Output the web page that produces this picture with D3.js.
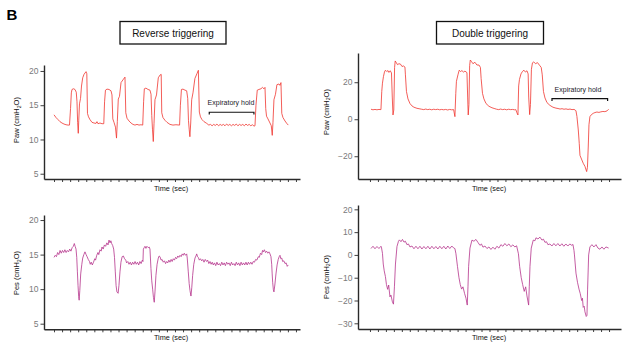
<!DOCTYPE html>
<html><head><meta charset="utf-8">
<script src="https://cdn.jsdelivr.net/npm/d3@7"></script>
<style>
html,body{margin:0;padding:0;background:#fff;}
text{font-family:"Liberation Sans",Arial,Helvetica,sans-serif;}
</style></head>
<body><svg id="c" width="636" height="347"></svg>
<script>
// ---------- DATA (time in sec, pressure in cmH2O) ----------
const timeTicks = [0,1,2,3,4,5,6,7,8,9,10,11,12,13,14,15,16,17,18,19,20,21,22,23,24,25,26,27,28,29,30];
const yTicksPawReverse = [5,10,15,20];
const yTicksPawDouble = [-20,0,20];
const yTicksPesReverse = [5,10,15,20];
const yTicksPesDouble = [-30,-20,-10,0,10,20];
const panelTitles = ["Reverse triggering","Double triggering"];
const holdLabel = "Expiratory hold";
const holdReverse = {t0:19.25, t1:24.79, v:13.97, labelT:21.94, labelV:15.0};
const holdDouble = {t0:22.84, t1:29.82, v:11.1, labelT:26.1, labelV:14.6};

const pawReverse = [
[0.00,13.6],[0.25,13.2],[0.50,12.9],[0.74,12.6],[0.99,12.4],[1.24,12.25],[1.49,12.15],[1.74,12.1],[1.92,12.1],
[2.05,14.5],[2.15,16.8],[2.23,17.3],[2.42,17.4],[2.60,17.3],[2.76,16.9],[2.85,15.5],[2.93,12.5],[3.01,10.9],
[3.07,12.8],[3.16,15.2],[3.29,16.0],[3.41,17.8],[3.56,19.0],[3.72,19.5],[3.97,19.9],[4.07,19.6],[4.15,13.8],
[4.28,13.3],[4.46,12.9],[4.71,12.5],[4.96,12.4],[5.21,12.35],[5.33,12.6],[5.45,12.3],[5.70,12.4],[5.95,12.3],[6.17,12.3],
[6.27,15.5],[6.38,17.2],[6.57,17.35],[6.82,17.3],[7.07,17.1],[7.19,16.5],[7.29,13.0],[7.44,12.5],[7.62,11.8],[7.75,10.2],
[7.85,12.6],[7.97,15.9],[8.12,16.3],[8.31,18.3],[8.55,18.7],[8.80,19.1],[8.90,13.9],[9.05,13.1],[9.30,12.7],[9.55,12.4],
[9.79,12.2],[10.04,12.1],[10.29,12.2],[10.54,12.1],[10.78,12.15],[11.00,12.1],
[11.11,15.5],[11.20,17.4],[11.40,17.5],[11.65,17.3],[11.90,17.2],[12.03,16.6],[12.12,13.5],[12.21,11.5],[12.31,9.7],
[12.40,12.3],[12.52,15.8],[12.71,16.5],[12.93,19.0],[13.14,19.4],[13.29,19.5],[13.36,13.9],[13.51,13.2],[13.76,12.8],
[14.01,12.5],[14.38,12.2],[14.75,12.1],[15.12,12.15],[15.57,12.1],
[15.67,15.0],[15.80,17.3],[15.99,17.35],[16.24,17.2],[16.45,17.1],[16.58,16.0],[16.67,12.8],[16.76,11.5],[16.85,10.4],
[16.95,12.4],[17.07,15.8],[17.23,16.8],[17.47,18.9],[17.72,19.6],[17.90,20.1],[18.02,14.0],[18.16,13.3],[18.35,12.9],
[18.60,12.6],[18.93,12.35],
[19.2,12.1],[19.4,12.2],[19.6,12.0],[19.8,12.2],[20.0,12.05],[20.2,12.25],[20.4,12.0],[20.6,12.2],[20.8,12.05],[21.0,12.2],
[21.2,12.0],[21.4,12.25],[21.6,12.05],[21.8,12.2],[22.0,12.0],[22.2,12.2],[22.4,12.05],[22.6,12.25],[22.8,12.0],[23.0,12.2],
[23.2,12.05],[23.4,12.2],[23.6,12.0],[23.8,12.25],[24.0,12.05],[24.2,12.2],[24.4,12.0],[24.6,12.15],[24.8,11.95],[24.92,12.0],
[25.04,15.0],[25.20,17.2],[25.41,17.3],[25.66,17.4],[25.85,17.6],[26.03,17.4],[26.16,17.6],[26.25,14.5],[26.35,13.4],
[26.53,13.0],[26.78,12.4],[26.94,12.0],[27.06,10.6],[27.15,12.5],[27.27,15.8],[27.46,16.6],[27.64,18.0],[27.89,18.1],
[28.01,17.9],[28.14,18.3],[28.24,13.8],[28.39,13.2],[28.64,12.7],[28.89,12.3],[29.05,12.1]
];

const pawDouble = [
[0.13,5.4],[0.38,5.1],[0.63,5.3],[0.88,5.1],[1.13,5.3],[1.38,5.2],
[1.48,15],[1.57,19.5],[1.69,23],[1.82,25.5],[1.94,26.5],[2.10,25.8],[2.26,26.3],[2.38,25.3],[2.55,26.2],[2.70,25.0],
[2.80,12],[2.89,2.3],[2.99,5],[3.09,28],[3.17,31.5],[3.32,30.5],[3.45,29.5],[3.64,30.0],[3.83,29.8],[4.02,28.5],
[4.20,28.8],[4.39,28.2],[4.45,24],[4.58,15],[4.77,11],[5.02,8.5],[5.27,7.2],[5.52,6.5],[5.90,5.9],[6.27,5.6],
[6.5,5.4],[6.75,5.2],[7.0,5.5],[7.25,5.2],[7.5,5.4],[7.75,5.1],[8.0,5.4],[8.25,5.2],[8.5,5.4],[8.75,5.1],[9.0,5.3],
[9.25,5.1],[9.5,5.3],[9.75,5.0],[10.0,5.3],[10.25,5.1],[10.5,5.2],
[10.66,1.4],[10.77,14],[10.85,20.5],[11.04,24],[11.20,26.5],[11.36,25.8],[11.54,26.3],[11.73,25.5],[11.92,26.0],
[12.17,25.2],[12.26,12],[12.33,2.3],[12.42,8],[12.51,29],[12.59,32],[12.74,31.2],[12.92,30.0],[13.17,30.8],[13.42,29.3],
[13.68,29.3],[13.86,28.0],[13.95,22],[14.12,14],[14.30,11],[14.56,8.5],[14.93,7.0],[15.31,6.2],[15.68,5.7],
[15.9,5.4],[16.15,5.2],[16.4,5.5],[16.65,5.2],[16.9,5.4],[17.15,5.1],[17.4,5.4],[17.65,5.2],[17.9,5.3],[18.15,5.1],[18.3,5.2],
[18.44,3.5],[18.57,2.3],[18.66,18],[18.76,21.5],[18.95,24.5],[19.13,25.8],[19.32,26.5],[19.51,25.5],[19.70,26.2],
[19.85,24.5],[19.92,12],[20.04,2.5],[20.14,8],[20.26,27],[20.39,30.5],[20.55,31.0],[20.77,30.0],[21.02,30.6],[21.27,29.2],
[21.49,28.0],[21.62,24],[21.77,15],[21.96,11.5],[22.21,9],[22.58,7.5],[22.96,6.5],[23.34,6.0],
[23.6,5.8],[23.85,5.5],[24.1,5.7],[24.35,5.4],[24.6,5.6],[24.85,5.3],[25.1,5.5],[25.35,5.2],[25.6,5.3],[25.75,5.0],
[25.85,4.5],[25.97,1.5],[26.14,-5.8],[26.26,-13],[26.35,-19.5],[26.54,-21.5],[26.76,-23.8],[26.98,-25.5],[27.19,-28.3],
[27.29,-26],[27.39,-15],[27.48,-3],[27.60,1.4],[27.79,2.5],[28.02,3.2],[28.23,3.6],[28.48,3.9],[28.73,3.7],[28.98,4.0],
[29.23,4.2],[29.48,4.1],[29.74,4.5],[29.95,5.4]
];

const pesReverse = [
[0.00,14.6],[0.15,14.9],[0.30,14.7],[0.45,15.3],[0.60,15.0],[0.75,15.6],[0.90,15.2],[1.05,15.6],[1.20,15.3],[1.35,15.7],
[1.50,15.3],[1.65,15.6],[1.80,15.4],[1.95,15.8],[2.10,15.5],[2.25,16.0],[2.40,16.2],[2.52,16.6],[2.62,16.2],[2.73,15.8],
[2.82,14.6],[2.90,12.5],[2.98,10.5],[3.06,8.9],[3.12,8.4],[3.20,9.8],[3.31,12.2],[3.45,13.6],[3.56,14.5],[3.70,15.0],
[3.84,15.4],[3.98,15.0],[4.10,14.7],[4.25,14.3],[4.40,14.0],[4.50,13.6],[4.62,13.9],[4.75,13.5],[4.90,13.9],[5.05,14.4],
[5.15,14.2],[5.30,14.9],[5.45,15.3],[5.55,15.0],[5.70,15.7],[5.85,15.5],[5.95,16.1],[6.10,15.8],[6.25,16.4],[6.40,16.2],
[6.55,16.7],[6.70,16.4],[6.82,17.1],[6.95,16.7],[7.05,17.0],[7.15,16.6],[7.28,16.3],[7.40,15.8],[7.50,14.6],[7.60,12.5],
[7.70,10.5],[7.80,9.6],[7.95,9.4],[8.05,10.5],[8.18,12.5],[8.30,13.9],[8.45,14.7],[8.60,14.8],[8.75,14.4],[8.90,14.2],
[9.00,13.8],[9.15,14.0],[9.30,13.6],[9.45,13.9],[9.60,13.5],[9.75,13.9],[9.90,13.6],[10.05,14.0],[10.20,13.6],[10.35,13.9],
[10.50,13.5],[10.65,14.0],[10.80,13.7],[10.95,14.2],[11.03,14.0],
[11.08,15.8],[11.18,16.0],[11.28,16.2],[11.40,15.9],[11.52,16.2],[11.69,16.0],[11.80,16.1],[11.90,15.8],[12.02,13.0],
[12.12,11.2],[12.23,10.0],[12.33,8.8],[12.43,8.1],[12.52,9.6],[12.64,12.0],[12.78,13.6],[12.93,14.5],[13.04,14.8],
[13.14,14.7],[13.28,14.2],[13.40,14.3],[13.55,13.9],[13.70,14.1],[13.83,13.7],[13.97,14.0],[14.10,13.8],[14.24,14.2],
[14.38,13.9],[14.52,14.3],[14.65,14.0],[14.79,14.4],[14.93,14.2],[15.07,14.6],[15.20,14.4],[15.35,14.8],[15.48,14.6],
[15.62,14.9],[15.76,14.7],[15.90,15.1],[16.03,14.9],[16.15,15.2],[16.30,14.9],[16.45,15.1],[16.52,14.5],[16.65,12.5],
[16.76,10.8],[16.86,9.8],[16.98,9.0],[17.08,10.2],[17.19,12.0],[17.33,13.6],[17.48,14.5],[17.60,14.8],[17.69,15.1],
[17.80,14.7],[17.89,14.6],[18.02,14.2],[18.16,14.4],[18.31,14.1],[18.45,14.3],[18.60,13.9],[18.75,14.3],[18.93,14.0],
[19.05,14.2],[19.20,13.7],[19.34,14.0],[19.48,13.6],[19.62,13.9],[19.75,13.5],
[19.90,13.8],[20.05,13.4],[20.20,13.9],[20.35,13.5],[20.50,13.7],[20.65,13.4],[20.80,13.9],[20.95,13.5],[21.10,13.8],
[21.25,13.4],[21.40,13.9],[21.55,13.6],[21.70,13.8],[21.85,13.4],[22.00,13.9],[22.15,13.5],[22.30,13.7],[22.45,13.4],
[22.60,13.9],[22.75,13.5],[22.90,13.8],[23.05,13.4],[23.20,13.9],[23.35,13.5],[23.50,13.8],[23.65,13.5],[23.80,13.9],
[23.95,13.5],[24.10,13.9],[24.25,13.6],[24.40,13.9],[24.55,13.6],[24.70,14.0],[24.85,13.9],[25.00,14.3],[25.15,14.2],
[25.33,14.7],[25.45,14.6],[25.60,15.2],[25.75,15.0],[25.85,15.6],[25.95,15.4],[26.08,15.7],[26.22,15.3],[26.36,15.5],
[26.50,15.2],[26.65,15.4],[26.78,15.1],[26.90,14.7],[26.99,13.6],[27.05,12.2],[27.11,11.0],[27.20,9.9],[27.27,9.6],
[27.38,10.6],[27.52,12.2],[27.66,13.5],[27.80,14.3],[27.92,14.7],[28.02,14.9],[28.12,14.4],[28.24,14.5],[28.35,14.0],
[28.50,14.1],[28.64,13.7],[28.78,13.8],[28.92,13.3],[29.04,13.5]
];

const pesDouble = [
[0.13,2.8],[0.38,3.8],[0.63,2.7],[0.88,3.7],[1.13,2.8],[1.38,3.8],[1.44,3.4],[1.57,0.7],[1.67,-4],[1.79,-7],[1.94,-9.5],
[2.07,-13],[2.22,-15.1],[2.35,-13.2],[2.51,-18.4],[2.63,-17.6],[2.82,-20.6],[2.95,-21.6],[3.07,-14],[3.20,-4],[3.39,3.7],
[3.58,6.0],[3.70,6.6],[3.89,5.8],[4.08,6.8],[4.27,5.6],[4.45,6.0],[4.64,4.5],[4.83,4.8],[5.02,3.5],
[5.27,3.9],[5.52,2.7],[5.77,3.8],[6.02,2.7],[6.27,3.8],[6.52,2.6],[6.77,3.7],[7.02,2.7],[7.27,3.8],[7.52,2.6],[7.77,3.8],
[8.02,2.7],[8.27,3.7],[8.52,2.6],[8.77,3.8],[9.02,2.7],[9.27,3.8],[9.52,2.6],[9.77,3.9],[10.02,2.8],[10.27,3.9],[10.52,3.0],
[10.66,2.8],[10.79,0.5],[10.98,-5],[11.17,-10],[11.33,-13],[11.50,-15],[11.67,-14],[11.88,-17],[12.05,-19],[12.21,-22],
[12.30,-14],[12.38,-5],[12.55,3],[12.80,6.5],[13.05,6.0],[13.30,6.8],[13.55,5.5],[13.80,4.2],[13.99,4.8],[14.18,3.4],
[14.43,3.9],[14.68,2.8],[14.93,3.5],[15.18,2.4],[15.43,3.4],[15.68,2.5],[15.93,3.8],[16.18,3.0],[16.43,4.5],[16.68,3.8],
[16.93,5.0],[17.18,4.0],[17.43,4.8],[17.68,3.6],[17.93,4.4],[18.18,3.5],[18.40,4.0],
[18.63,0.5],[18.78,-5],[18.98,-10],[19.16,-13],[19.36,-16],[19.54,-14],[19.70,-18],[19.91,-22],[19.99,-14],[20.08,-5],
[20.24,3],[20.49,6.5],[20.70,6.2],[20.83,7.5],[21.08,7.0],[21.33,7.8],[21.58,6.5],[21.77,6.9],[21.96,5.5],[22.15,5.8],
[22.33,4.5],[22.58,4.8],[22.83,3.9],[23.08,5.0],[23.33,4.0],[23.58,5.0],[23.83,3.9],[24.08,4.9],[24.33,3.8],[24.58,4.8],
[24.83,3.9],[25.08,4.8],[25.33,4.2],[25.47,4.6],
[25.60,2.0],[25.66,0],[25.85,-8],[26.04,-12],[26.23,-15],[26.39,-17],[26.56,-20],[26.66,-19],[26.76,-23],[26.88,-22.5],
[26.98,-25],[27.14,-27],[27.23,-26.5],[27.31,-15],[27.44,0],[27.60,3.5],[27.85,4.5],[28.10,3.5],[28.36,4.5],[28.61,3.0],
[28.86,2.5],[29.11,3.5],[29.36,2.5],[29.61,3.5],[29.95,3.0]
];

// ---------- DRAWING ----------
const svg = d3.select("#c");
svg.append("rect").attr("width",636).attr("height",347).attr("fill","#fff");

const PAW_COLOR = "#f0352f", PES_COLOR = "#b5338c", AXIS = "#2a2a2a", TICKTXT = "#7a7a7a";

const panels = [
  {data:pawReverse, color:PAW_COLOR, xr:[44,300], xd:[-1.24,30.5], yr:[179,65], yd:[4.23,20.87], ticks:yTicksPawReverse, lab:"Paw", labX:16.5, labY:120, timeX:171, timeY:190.5, hold:holdReverse},
  {data:pawDouble, color:PAW_COLOR, xr:[358,621], xd:[-1.5,31.5], yr:[179,53], yd:[-32.3,35.8], ticks:yTicksPawDouble, lab:"Paw", labX:326, labY:112, timeX:489, timeY:190.5, hold:holdDouble},
  {data:pesReverse, color:PES_COLOR, xr:[44,300], xd:[-1.24,30.5], yr:[329.3,215], yd:[4.19,20.73], ticks:yTicksPesReverse, lab:"Pes", labX:16.5, labY:273, timeX:171, timeY:339.5},
  {data:pesDouble, color:PES_COLOR, xr:[358,621], xd:[-1.5,31.5], yr:[329,205], yd:[-32.5,21.9], ticks:yTicksPesDouble, lab:"Pes", labX:326, labY:277, timeX:489, timeY:339.5}
];

panels.forEach(p => {
  const x = d3.scaleLinear().domain(p.xd).range(p.xr);
  const y = d3.scaleLinear().domain(p.yd).range(p.yr);
  const g = svg.append("g");

  // trace
  g.append("path").datum(p.data)
    .attr("d", d3.line().x(d=>x(d[0])).y(d=>y(d[1])))
    .attr("fill","none").attr("stroke",p.color).attr("stroke-width",0.8)
    .attr("stroke-linejoin","round");

  // y axis
  const ya = g.append("g").attr("transform",`translate(${p.xr[0]},0)`)
    .call(d3.axisLeft(y).tickValues(p.ticks).tickSize(3.5).tickPadding(2).tickSizeOuter(0));
  ya.select(".domain").attr("stroke",AXIS).attr("stroke-width",1.4);
  ya.selectAll(".tick line").attr("stroke",AXIS).attr("stroke-width",0.9);
  ya.selectAll(".tick text").attr("fill",TICKTXT).attr("font-size",8.5)
    .attr("font-family","'Liberation Sans',Arial,sans-serif");

  // x axis
  const xa = g.append("g").attr("transform",`translate(0,${p.yr[0]})`)
    .call(d3.axisBottom(x).tickValues(timeTicks).tickSize(3).tickFormat("").tickSizeOuter(0));
  xa.select(".domain").attr("stroke",AXIS).attr("stroke-width",1.4);
  xa.selectAll(".tick line").attr("stroke",AXIS).attr("stroke-width",0.9);

  // axis titles
  g.append("text").attr("x",p.timeX).attr("y",p.timeY).attr("text-anchor","middle")
    .attr("font-size",7.3).attr("fill","#111").text("Time (sec)");
  const yl = g.append("text").attr("transform",`translate(${p.labX+2.5},${p.labY}) rotate(-90)`)
    .attr("text-anchor","middle").attr("font-size",7.5).attr("fill","#111");
  yl.append("tspan").text(p.lab + " (cmH");
  yl.append("tspan").attr("font-size",5.2).attr("dy",1.8).text("2");
  yl.append("tspan").attr("dy",-1.8).text("O)");

  // expiratory hold bracket
  if (p.hold) {
    const h = p.hold, yy = y(h.v);
    g.append("path")
      .attr("d",`M${x(h.t0)},${yy+2.2}V${yy}H${x(h.t1)}V${yy+2.2}`)
      .attr("fill","none").attr("stroke","#111").attr("stroke-width",1.2);
    g.append("text").attr("x",x(h.labelT)).attr("y",y(h.labelV)).attr("text-anchor","middle")
      .attr("font-size",7).attr("fill","#1a1a2a").text(holdLabel);
  }
});

// panel titles in boxes
const titleBoxes = [{x:120,w:106,cx:173},{x:436.5,w:107,cx:490}];
panelTitles.forEach((t,i) => {
  const b = titleBoxes[i];
  svg.append("rect").attr("x",b.x).attr("y",21.5).attr("width",b.w).attr("height",22.5)
    .attr("fill","#fff").attr("stroke","#111").attr("stroke-width",1.3);
  svg.append("text").attr("x",b.cx).attr("y",36.5).attr("text-anchor","middle")
    .attr("font-size",10).attr("fill","#111").text(t);
});

// panel letter
svg.append("text").attr("x",6.5).attr("y",20).attr("font-size",15).attr("font-weight","bold")
  .attr("fill","#000").text("B");
</script>
</body></html>
